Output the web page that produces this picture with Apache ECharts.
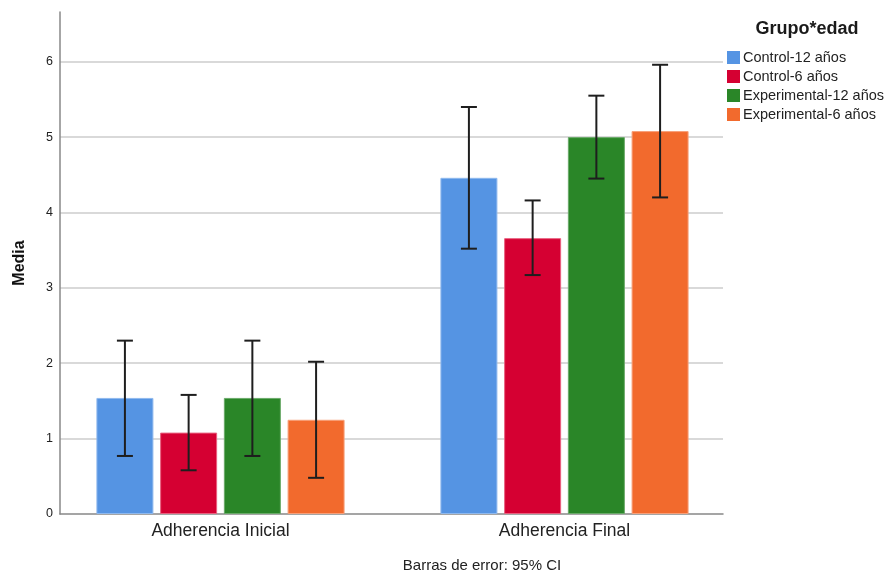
<!DOCTYPE html>
<html>
<head>
<meta charset="utf-8">
<title>Adherencia por Grupo*edad</title>
<script src="https://cdn.jsdelivr.net/npm/echarts@6/dist/echarts.min.js"></script>
<style>
  html, body { margin: 0; padding: 0; background: #fff; }
  #chart { width: 892px; height: 573px; }
</style>
</head>
<body>
<div id="chart"></div>
<script>
// Categories and groups
const categories = ['Adherencia Inicial', 'Adherencia Final'];
const groups = ['Control-12 años', 'Control-6 años', 'Experimental-12 años', 'Experimental-6 años'];

// Means per group (one value per category)
const meanControl12 = [1.54, 4.46];
const meanControl6 = [1.08, 3.66];
const meanExperimental12 = [1.54, 5.00];
const meanExperimental6 = [1.25, 5.08];

// 95% CI lower / upper bounds per group
const ciLowControl12 = [0.77, 3.52];
const ciHighControl12 = [2.30, 5.40];
const ciLowControl6 = [0.58, 3.17];
const ciHighControl6 = [1.58, 4.16];
const ciLowExperimental12 = [0.77, 4.45];
const ciHighExperimental12 = [2.30, 5.55];
const ciLowExperimental6 = [0.48, 4.20];
const ciHighExperimental6 = [2.02, 5.96];

// Y axis ticks
const yTicks = [0, 1, 2, 3, 4, 5, 6];

const means = [meanControl12, meanControl6, meanExperimental12, meanExperimental6];
const ciLow = [ciLowControl12, ciLowControl6, ciLowExperimental12, ciLowExperimental6];
const ciHigh = [ciHighControl12, ciHighControl6, ciHighExperimental12, ciHighExperimental6];

const colors = ['#5594e3', '#d50032', '#2a8628', '#f26a2d'];
const borders = ['#8fb9ee', '#e8607f', '#6aaa69', '#f7a07a'];

const BAR_W = 57;
const GAP_FRAC = 0.118;
const STEP = BAR_W * (1 + GAP_FRAC);
const Y_MAX = 6.66;
const FONT = 'Liberation Sans, Arial, sans-serif';

const chart = echarts.init(document.getElementById('chart'), null, { renderer: 'canvas' });

const barSeries = groups.map((g, i) => ({
  name: g,
  type: 'bar',
  xAxisIndex: 1,
  yAxisIndex: 1,
  barWidth: BAR_W,
  barGap: (GAP_FRAC * 100) + '%',
  data: means[i],
  itemStyle: { color: colors[i], borderColor: borders[i], borderWidth: 1 },
  emphasis: { disabled: true },
  z: 2
}));

// Error bar rows: [categoryIndex, groupIndex, low, high]
const errRows = [];
groups.forEach((g, s) => {
  categories.forEach((c, k) => errRows.push([k, s, ciLow[s][k], ciHigh[s][k]]));
});

const errorSeries = {
  type: 'custom',
  xAxisIndex: 1,
  yAxisIndex: 1,
  silent: true,
  z: 5,
  data: errRows,
  encode: { x: 0, y: [2, 3] },
  renderItem: function (params, api) {
    const k = api.value(0);
    const s = api.value(1);
    const lo = api.coord([k, api.value(2)]);
    const hi = api.coord([k, api.value(3)]);
    const x = lo[0] + (s - 1.5) * STEP;
    const half = 8;
    const style = { stroke: '#1e1e1e', lineWidth: 2 };
    return {
      type: 'group',
      children: [
        { type: 'line', shape: { x1: x, y1: hi[1], x2: x, y2: lo[1] }, style: style },
        { type: 'line', shape: { x1: x - half, y1: hi[1], x2: x + half, y2: hi[1] }, style: style },
        { type: 'line', shape: { x1: x - half, y1: lo[1], x2: x + half, y2: lo[1] }, style: style }
      ]
    };
  }
};

const option = {
  animation: false,
  backgroundColor: '#ffffff',
  textStyle: { fontFamily: FONT },
  title: [
    {
      text: 'Grupo*edad',
      left: 807,
      top: 20,
      textAlign: 'center',
      padding: 0,
      textStyle: { fontSize: 18, fontWeight: 'bold', color: '#1a1a1a', fontFamily: FONT }
    },
    {
      text: 'Barras de error: 95% CI',
      left: 482,
      top: 558,
      textAlign: 'center',
      padding: 0,
      textStyle: { fontSize: 15, fontWeight: 'normal', color: '#222', fontFamily: FONT }
    }
  ],
  legend: {
    orient: 'vertical',
    left: 727,
    top: 50,
    padding: 0,
    itemWidth: 13,
    itemHeight: 13,
    itemGap: 4,
    icon: 'rect',
    selectedMode: false,
    data: groups,
    itemStyle: { borderWidth: 0 },
    textStyle: { fontSize: 14.5, lineHeight: 14, color: '#222', padding: [0, 0, 0, -2] }
  },
  grid: [
    { left: 60, right: 169, top: 12, bottom: 59, containLabel: false },
    { left: 48.5, width: 688, top: 12, bottom: 59, containLabel: false }
  ],
  xAxis: [
    {
      type: 'category',
      gridIndex: 0,
      data: categories,
      axisLine: { show: true, lineStyle: { color: '#888', width: 1.5 } },
      axisTick: { show: false },
      axisLabel: { show: false },
      splitLine: { show: false }
    },
    {
      type: 'category',
      gridIndex: 1,
      data: categories,
      axisLine: { show: false },
      axisTick: { show: false },
      axisLabel: { show: true, margin: 8, fontSize: 17.5, color: '#222' },
      splitLine: { show: false }
    }
  ],
  yAxis: [
    {
      type: 'value',
      gridIndex: 0,
      min: yTicks[0],
      max: Y_MAX,
      interval: 1,
      name: 'Media',
      nameLocation: 'middle',
      nameGap: 32,
      nameTextStyle: { fontSize: 16, fontWeight: 'bold', color: '#111' },
      axisLine: { show: true, lineStyle: { color: '#888', width: 1.5 } },
      axisTick: { show: false },
      axisLabel: {
        fontSize: 12.5,
        color: '#222',
        margin: 7,
        formatter: function (v) { return yTicks.indexOf(v) >= 0 ? String(v) : ''; }
      },
      splitLine: {
        show: true,
        lineStyle: {
          color: ['transparent', '#cccccc', '#cccccc', '#cccccc', '#cccccc', '#cccccc', '#cccccc', 'transparent'],
          width: 1.5
        }
      }
    },
    {
      type: 'value',
      gridIndex: 1,
      min: yTicks[0],
      max: Y_MAX,
      show: false,
      splitLine: { show: false }
    }
  ],
  series: barSeries.concat([errorSeries])
};

chart.setOption(option);
</script>
</body>
</html>
